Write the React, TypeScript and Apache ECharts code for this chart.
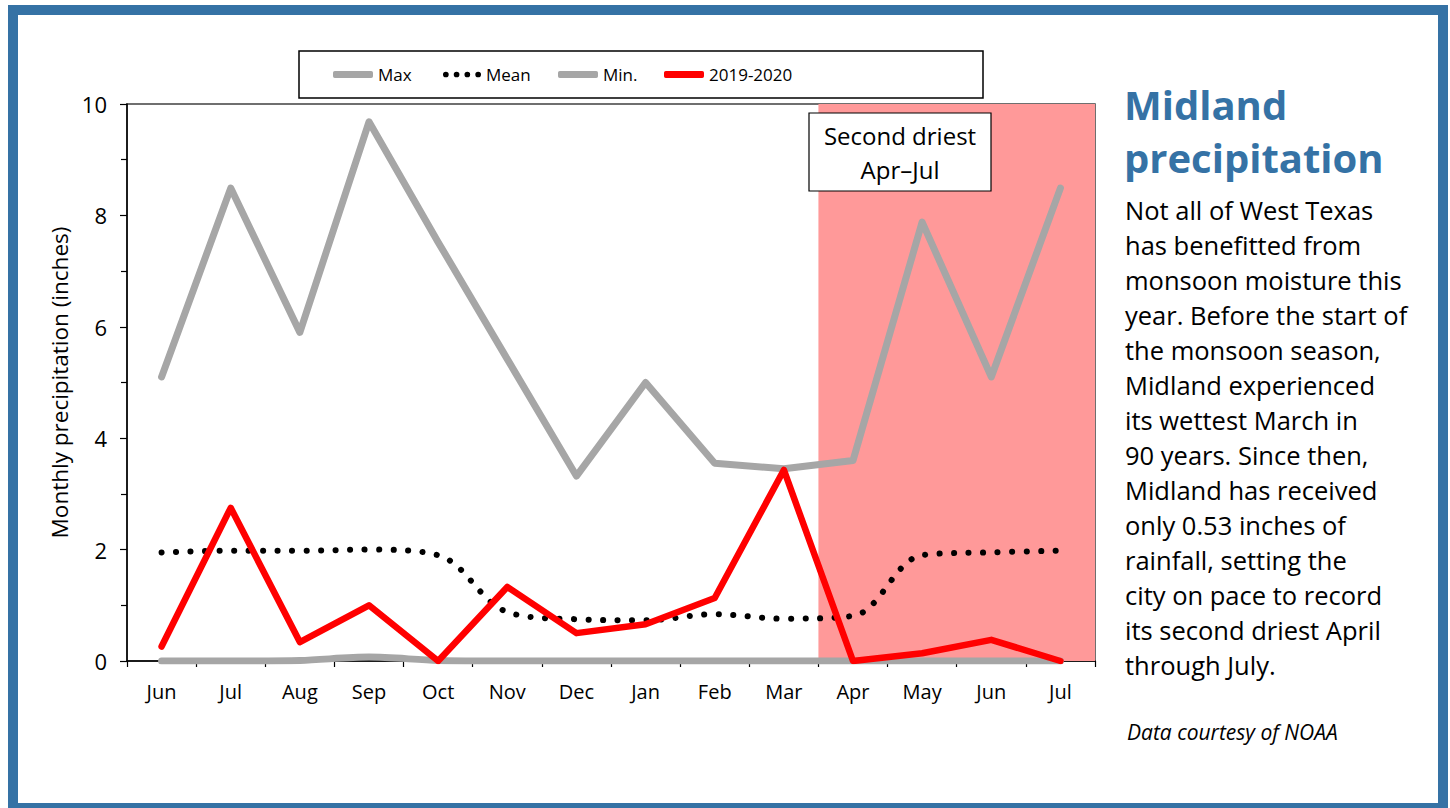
import React, { useEffect, useRef } from 'react';
import * as echarts from 'echarts';

const categories = ['Jun', 'Jul', 'Aug', 'Sep', 'Oct', 'Nov', 'Dec', 'Jan', 'Feb', 'Mar', 'Apr', 'May', 'Jun', 'Jul'];
const maxValues = [5.1, 8.49, 5.9, 9.68, 7.52, 5.42, 3.32, 5.0, 3.55, 3.45, 3.6, 7.88, 5.1, 8.49];
const meanValues = [1.95, 1.98, 1.98, 2.0, 1.9, 0.88, 0.75, 0.73, 0.84, 0.76, 0.81, 1.9, 1.95, 1.98];
const minValues = [0, 0, 0.01, 0.07, 0.01, 0, 0, 0, 0, 0, 0, 0, 0, 0];
const season2019 = [0.26, 2.75, 0.34, 1.0, 0.0, 1.33, 0.5, 0.66, 1.13, 3.43, 0.0, 0.14, 0.38, 0.0];
const yMin = 0;
const yMax = 10;
const yInterval = 2;
const shadeFromCategory = 10; // index of 'Apr' (second Apr–Jul season)
const legendNames = ['Max', 'Mean', 'Min.', '2019-2020'];
const annotationLines = ['Second driest', 'Apr\u2013Jul'];
const titleText = 'Midland\nprecipitation';
const bodyText = [
  'Not all of West Texas',
  'has benefitted from',
  'monsoon moisture this',
  'year. Before the start of',
  'the monsoon season,',
  'Midland experienced',
  'its wettest March in',
  '90 years. Since then,',
  'Midland has received',
  'only 0.53 inches of',
  'rainfall, setting the',
  'city on pace to record',
  'its second driest April',
  'through July.',
];
const creditText = 'Data courtesy of NOAA';

const FONT = '"Open Sans", "Noto Sans", sans-serif';
const BLUE = '#3572a5';
const GRAY = '#a6a6a6';
const DOTS_ICON =
  'path://M0,3a3,3 0 1,0 6,0a3,3 0 1,0 -6,0M11.3,3a3,3 0 1,0 6,0a3,3 0 1,0 -6,0M22.6,3a3,3 0 1,0 6,0a3,3 0 1,0 -6,0M34,3a3,3 0 1,0 6,0a3,3 0 1,0 -6,0';

export default function App() {
  const ref = useRef<HTMLDivElement>(null);

  useEffect(() => {
    if (!ref.current) return;
    const chart = echarts.init(ref.current, null, { renderer: 'svg' });
    const legendLefts = [333, 443, 558, 664];
    const legendIcons = ['roundRect', DOTS_ICON, 'roundRect', 'roundRect'];
    const legendColors = [GRAY, '#000', GRAY, '#ff0000'];

    const option: any = {
      animation: false,
      backgroundColor: '#ffffff',
      textStyle: { fontFamily: FONT },
      grid: {
        left: 127,
        right: 355,
        top: 104,
        bottom: 147,
        show: true,
        borderColor: '#404040',
        borderWidth: 1.5,
        backgroundColor: 'transparent',
      },
      legend: legendNames.map((n, i) => ({
        data: [{ name: n, icon: legendIcons[i], itemStyle: { color: legendColors[i] } }],
        left: legendLefts[i],
        top: 66,
        padding: 0,
        itemWidth: i === 1 ? 38 : 40,
        itemHeight: i === 1 ? 6 : 7,
        itemGap: 5,
        textStyle: { fontFamily: FONT, fontSize: 17, color: '#000' },
        selectedMode: false,
      })),
      xAxis: [
        {
          type: 'category',
          data: categories,
          boundaryGap: true,
          axisLine: { lineStyle: { color: '#000', width: 1.5 } },
          axisTick: { show: true, length: 6, inside: false, lineStyle: { color: '#000', width: 1.2 } },
          axisLabel: { color: '#000', fontSize: 20, fontFamily: FONT, margin: 20 },
          splitLine: { show: false },
        },
        {
          type: 'value',
          min: 0,
          max: categories.length,
          show: false,
        },
      ],
      yAxis: {
        type: 'value',
        min: yMin,
        max: yMax,
        interval: yInterval,
        name: 'Monthly precipitation (inches)',
        nameLocation: 'middle',
        nameGap: 56,
        nameTextStyle: { fontSize: 22.5, color: '#000', fontFamily: FONT },
        axisLine: { show: true, lineStyle: { color: '#000', width: 1.5 } },
        axisTick: { show: true, length: 7, lineStyle: { color: '#000', width: 1.2 } },
        minorTick: { show: true, splitNumber: 2, length: 6, lineStyle: { color: '#000', width: 1.2 } },
        axisLabel: { color: '#000', fontSize: 22, fontFamily: FONT, margin: 20 },
        splitLine: { show: false },
      },
      series: [
        {
          name: 'shade',
          type: 'line',
          xAxisIndex: 1,
          data: [[shadeFromCategory, 0], [categories.length, 0]],
          symbol: 'none',
          lineStyle: { opacity: 0 },
          silent: true,
          z: 1,
          markArea: {
            silent: true,
            itemStyle: { color: '#ff9999', opacity: 1 },
            data: [[{ xAxis: shadeFromCategory }, { xAxis: categories.length }]],
          },
        },
        {
          name: 'Max',
          type: 'line',
          data: maxValues,
          symbol: 'none',
          lineStyle: { color: GRAY, width: 7, cap: 'round', join: 'round' },
          itemStyle: { color: GRAY },
          z: 3,
        },
        {
          name: 'Min.',
          type: 'line',
          data: minValues,
          symbol: 'none',
          smooth: 0.3,
          lineStyle: { color: GRAY, width: 7, cap: 'round', join: 'round' },
          itemStyle: { color: GRAY },
          z: 3,
        },
        {
          name: 'Mean',
          type: 'line',
          data: meanValues,
          symbol: 'none',
          smooth: 0.35,
          lineStyle: { color: '#000', width: 6, type: [0.1, 14.4], cap: 'round' },
          itemStyle: { color: '#000' },
          z: 4,
        },
        {
          name: '2019-2020',
          type: 'line',
          data: season2019,
          symbol: 'none',
          lineStyle: { color: '#ff0000', width: 6.5, cap: 'round', join: 'round' },
          itemStyle: { color: '#ff0000' },
          z: 5,
        },
      ],
      graphic: [
        {
          type: 'rect',
          shape: { x: 299, y: 51, width: 684, height: 47 },
          style: { fill: null, stroke: '#000', lineWidth: 1.5 },
          z: 10,
        },
        {
          type: 'rect',
          shape: { x: 809, y: 113, width: 182, height: 78 },
          style: { fill: '#fff', stroke: '#000', lineWidth: 1.2 },
          z: 100,
        },
        {
          type: 'text',
          x: 900,
          y: 152,
          z: 101,
          style: {
            text: annotationLines.join('\n'),
            fontFamily: FONT,
            fontSize: 24,
            lineHeight: 34,
            fill: '#000',
            align: 'center',
            verticalAlign: 'middle',
          },
        },
        {
          type: 'text',
          x: 1124,
          y: 78,
          z: 20,
          style: {
            text: titleText,
            fontFamily: FONT,
            fontWeight: 'bold',
            fontSize: 40,
            lineHeight: 53,
            fill: BLUE,
          },
        },
        {
          type: 'text',
          x: 1125,
          y: 193,
          z: 20,
          style: {
            text: bodyText.join('\n'),
            fontFamily: FONT,
            fontSize: 25.5,
            lineHeight: 34.95,
            fill: '#000',
          },
        },
        {
          type: 'text',
          x: 1127,
          y: 721,
          z: 20,
          style: {
            text: creditText,
            fontFamily: FONT,
            fontStyle: 'italic',
            fontSize: 21,
            fill: '#000',
          },
        },
        {
          type: 'rect',
          shape: { x: 13, y: 10, width: 1430, height: 798 },
          style: { fill: null, stroke: BLUE, lineWidth: 10 },
          z: 300,
        },
      ],
    };

    chart.setOption(option);
    return () => chart.dispose();
  }, []);

  return (
    <div
      ref={ref}
      style={{ position: 'absolute', left: 0, top: 0, width: 1450, height: 808, background: '#fff' }}
    />
  );
}
